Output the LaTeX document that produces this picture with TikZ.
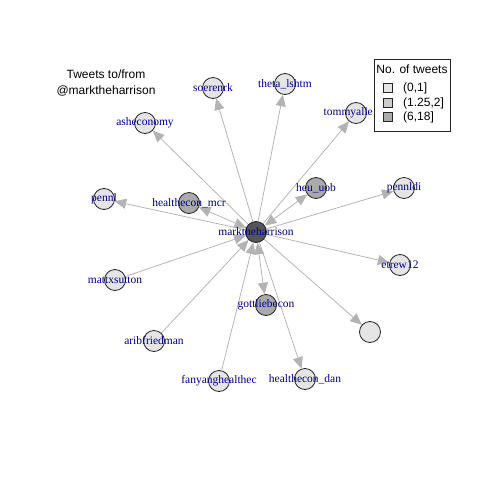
\documentclass[tikz,border=0pt]{standalone}
\usepackage{fontspec}
\setmainfont{Liberation Serif}
\newfontfamily\helv{Liberation Sans}
\usetikzlibrary{arrows.meta}
\pgfdeclarelayer{background}
\pgfsetlayers{background,main}
\definecolor{vlight}{HTML}{E5E5E5}
\definecolor{vmid}{HTML}{CCCCCC}
\definecolor{vdark}{HTML}{AAAAAA}
\definecolor{vcentre}{HTML}{555555}
\definecolor{edgegray}{HTML}{B3B3B3}
\definecolor{lblblue}{HTML}{00008B}
\begin{document}
\begin{tikzpicture}[x=1pt,y=-1pt,
  vert/.style={circle,draw=black!85,line width=0.8pt,minimum size=21pt,inner sep=0pt,fill=vlight},
  vdk/.style={vert,fill=vdark},
  lbl/.style={text=lblblue,font=\fontsize{11.5}{12}\selectfont,inner sep=0pt},
  link/.style={draw=edgegray,line width=0.75pt},
  outa/.style={link,-{Triangle[length=11.5pt,width=10pt]}},
  both/.style={link,{Triangle[length=11.5pt,width=10pt]}-{Triangle[length=11.5pt,width=10pt]}},
  keybox/.style={draw=black!85,line width=0.6pt},
  keytext/.style={font=\helv\fontsize{12}{13}\selectfont,inner sep=0pt}
]
\useasboundingbox (0,0) rectangle (480,480);

% vertices
\node[vert,fill=vcentre] (c) at (256,232) {};
\node[vert] (soe) at (213,88) {};
\node[vert] (the) at (285,84) {};
\node[vert] (tom) at (356,113) {};
\node[vert] (ash) at (145,123) {};
\node[vdk] (mcr) at (189,203) {};
\node[vert] (pnl) at (104,199) {};
\node[vdk] (heu) at (316,188) {};
\node[vert] (pdi) at (404,188) {};
\node[vert] (mat) at (115,280) {};
\node[vert] (etr) at (400,265) {};
\node[vdk] (got) at (266,305) {};
\node[vert] (unl) at (370,332) {};
\node[vert] (ari) at (154,341) {};
\node[vert] (fan) at (219,381) {};
\node[vert] (dan) at (305,379) {};

% edges
\begin{pgfonlayer}{background}
\fill[white] (0,0) rectangle (480,480);
\draw[outa] (c) -- (soe);
\draw[outa] (c) -- (the);
\draw[outa] (c) -- (tom);
\draw[outa] (c) -- (ash);
\draw[both] (c) -- (mcr);
\draw[outa] (c) -- (pnl);
\draw[both] (c) -- (heu);
\draw[outa] (c) -- (pdi);
\draw[outa] (c) -- (etr);
\draw[outa] (mat) -- (c);
\draw[outa] (ari) -- (c);
\draw[outa] (fan) -- (c);
\draw[both] (c) -- (got);
\draw[outa] (c) -- (dan);
\draw[outa] (c) -- (unl);
\end{pgfonlayer}

% labels
\node[lbl] (lc) at (c) {marktheharrison};
\node[lbl] (lsoe) at (soe) {soerenrk};
\node[lbl] (lthe) at (the) {theta\_lshtm};
\node[lbl,anchor=east] (ltom) at (373,113) {tommyalle};
\node[lbl] (lash) at (ash) {asheconomy};
\node[lbl] (lmcr) at (mcr) {healthecon\_mcr};
\node[lbl] (lpnl) at (pnl) {pennl};
\node[lbl] (lheu) at (heu) {heu\_uob};
\node[lbl] (lpdi) at (pdi) {pennldi};
\node[lbl] (lmat) at (mat) {mattxsutton};
\node[lbl] (letr) at (etr) {etrew12};
\node[lbl] (lgot) at (got) {gottliebecon};
\node[lbl] (lari) at (ari) {aribfriedman};
\node[lbl] (lfan) at (fan) {fanyanghealthec};
\node[lbl] (ldan) at (dan) {healthecon\_dan};

% title
\node[align=center,font=\helv\fontsize{12}{16}\selectfont,inner sep=0pt] (title) at (106,83) {Tweets to/from\\@marktheharrison};

% legend
\draw[keybox,fill=white] (374,59) rectangle (450,131);
\node[keytext] (kt) at (412,69) {No. of tweets};
\draw[keybox,fill=vlight] (383.5,83.5) rectangle (392.5,92.5);
\draw[keybox,fill=vmid] (383.5,98.5) rectangle (392.5,107.5);
\draw[keybox,fill=vdark] (383.5,112.5) rectangle (392.5,121.5);
\node[keytext,anchor=west] (k1) at (403,88) {(0,1]};
\node[keytext,anchor=west] (k2) at (403,103) {(1.25,2]};
\node[keytext,anchor=west] (k3) at (403,117) {(6,18]};
\end{tikzpicture}
\end{document}
